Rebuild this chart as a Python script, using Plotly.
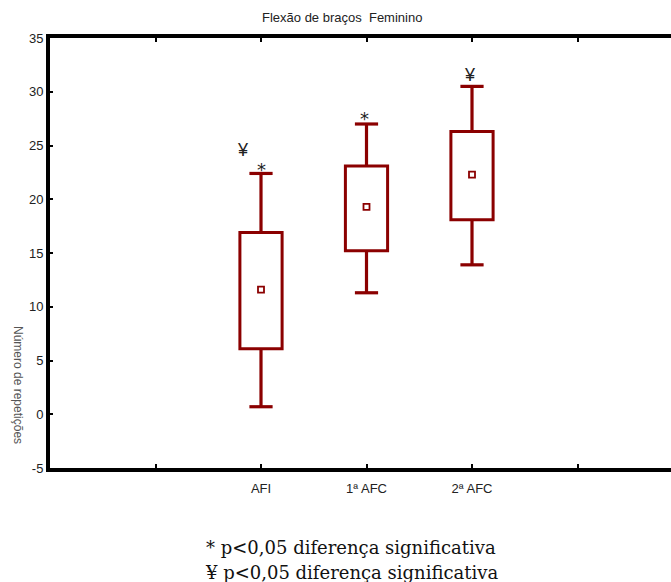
import plotly.graph_objects as go

# ---- data ----
categories = ["AFI", "1ª AFC", "2ª AFC"]
cat_pos = [2, 3, 4]
means = [11.6, 19.3, 22.3]
box_low = [6.1, 15.2, 18.1]
box_high = [16.9, 23.1, 26.3]
whisk_low = [0.7, 11.3, 13.9]
whisk_high = [22.4, 27.0, 30.5]
sig_marks = [["¥", "*"], ["*"], ["¥"]]

tick_vals = [1, 2, 3, 4, 5]
tick_text = ["", "AFI", "1ª AFC", "2ª AFC", ""]
y_tick_vals = [-5, 0, 5, 10, 15, 20, 25, 30, 35]
y_tick_text = ["-5", "0", "5", "10", "15", "20", "25", "30", "35"]

RED = "#8B0000"
box_w = 0.4
cap_w = 0.22
NARROW = "Liberation Sans Narrow, Liberation Sans"

fig = go.Figure()

# boxes (mean ± SE style)
fig.add_trace(go.Bar(
    x=cat_pos, y=[h - l for h, l in zip(box_high, box_low)], base=box_low,
    width=box_w, marker=dict(color="white", line=dict(color=RED, width=3)),
    hoverinfo="skip", showlegend=False))

# whiskers + caps
wx, wy = [], []
for x, bl, bh, wl, wh in zip(cat_pos, box_low, box_high, whisk_low, whisk_high):
    wx += [x, x, None, x - cap_w / 2, x + cap_w / 2, None,
           x, x, None, x - cap_w / 2, x + cap_w / 2, None]
    wy += [bh, wh, None, wh, wh, None,
           bl, wl, None, wl, wl, None]
fig.add_trace(go.Scatter(x=wx, y=wy, mode="lines",
                         line=dict(color=RED, width=3.2),
                         hoverinfo="skip", showlegend=False))

# means
fig.add_trace(go.Scatter(x=cat_pos, y=means, mode="markers",
                         marker=dict(symbol="square-open", size=6,
                                     color=RED, line=dict(color=RED, width=1.8)),
                         showlegend=False))

annotations = []
# significance marks
for x, wh, marks in zip(cat_pos, whisk_high, sig_marks):
    if len(marks) == 2:
        annotations.append(dict(x=x - 0.17, y=wh + 2.2, xref="x", yref="y",
                                text=marks[0], showarrow=False,
                                font=dict(family="Liberation Sans", size=18, color="#222")))
        annotations.append(dict(x=x, y=wh + 0.4, xref="x", yref="y",
                                text=marks[1], showarrow=False,
                                font=dict(family="DejaVu Sans", size=18, color="#222")))
    else:
        if marks[0] == "¥":
            annotations.append(dict(x=x - 0.02, y=wh + 1.1, xref="x", yref="y", text=marks[0],
                                    showarrow=False,
                                    font=dict(family="Liberation Sans", size=18, color="#222")))
        else:
            annotations.append(dict(x=x - 0.02, y=wh + 0.5, xref="x", yref="y", text=marks[0],
                                    showarrow=False,
                                    font=dict(family="DejaVu Sans", size=18, color="#222")))

# title
annotations.append(dict(x=342, y=18, text="Flexão de braços  Feminino",
                        showarrow=False, font=dict(family=NARROW, size=13, color="#222")))
# y-axis title (rotated, reading downward)
annotations.append(dict(x=18, y=385, text="Número de repetições", textangle=90, showarrow=False,
                        font=dict(family=NARROW, size=12, color="#555")))
# footnotes
annotations.append(dict(x=351, y=547, text="* p<0,05 diferença significativa", showarrow=False,
                        font=dict(family="DejaVu Serif", size=18, color="#111")))
annotations.append(dict(x=351, y=572, text="¥ p<0,05 diferença significativa", showarrow=False,
                        font=dict(family="DejaVu Serif", size=18, color="#111")))

# convert pixel-positioned text annotations (title, labels, footnotes) to paper coords
W, H = 671, 582
L, R, T, B = 50, 0, 38, 114
pw, ph = W - L - R, H - T - B
for a in annotations:
    if a.get("xref") == "x":
        continue
    a["x"] = (a["x"] - L) / pw
    a["y"] = 1 - (a["y"] - T) / ph
    a["xref"] = "paper"
    a["yref"] = "paper"
    a["xanchor"] = "center"
    a["yanchor"] = "middle"

fig.update_layout(
    width=W, height=H,
    margin=dict(l=L, r=R, t=T, b=B, pad=0),
    plot_bgcolor="white", paper_bgcolor="white",
    annotations=annotations,
    showlegend=False,
    font=dict(family=NARROW, size=13, color="#222"),
)
fig.update_xaxes(range=[0, pw / 105.5], tickvals=tick_vals, ticktext=tick_text,
                 showgrid=False, zeroline=False, showline=True, linecolor="black", linewidth=4,
                 mirror="ticks", ticks="inside", ticklen=4, tickwidth=2, tickcolor="black",
                 ticklabelstandoff=5,
                 tickfont=dict(family=NARROW, size=13, color="#222"))
fig.update_yaxes(range=[-5, 35], tickvals=y_tick_vals, ticktext=y_tick_text,
                 showgrid=False, zeroline=False, showline=True, linecolor="black", linewidth=4,
                 ticks="inside", ticklen=3, tickwidth=2, tickcolor="black",
                 tickfont=dict(family=NARROW, size=13, color="#222"))

fig.write_html("out.html")
